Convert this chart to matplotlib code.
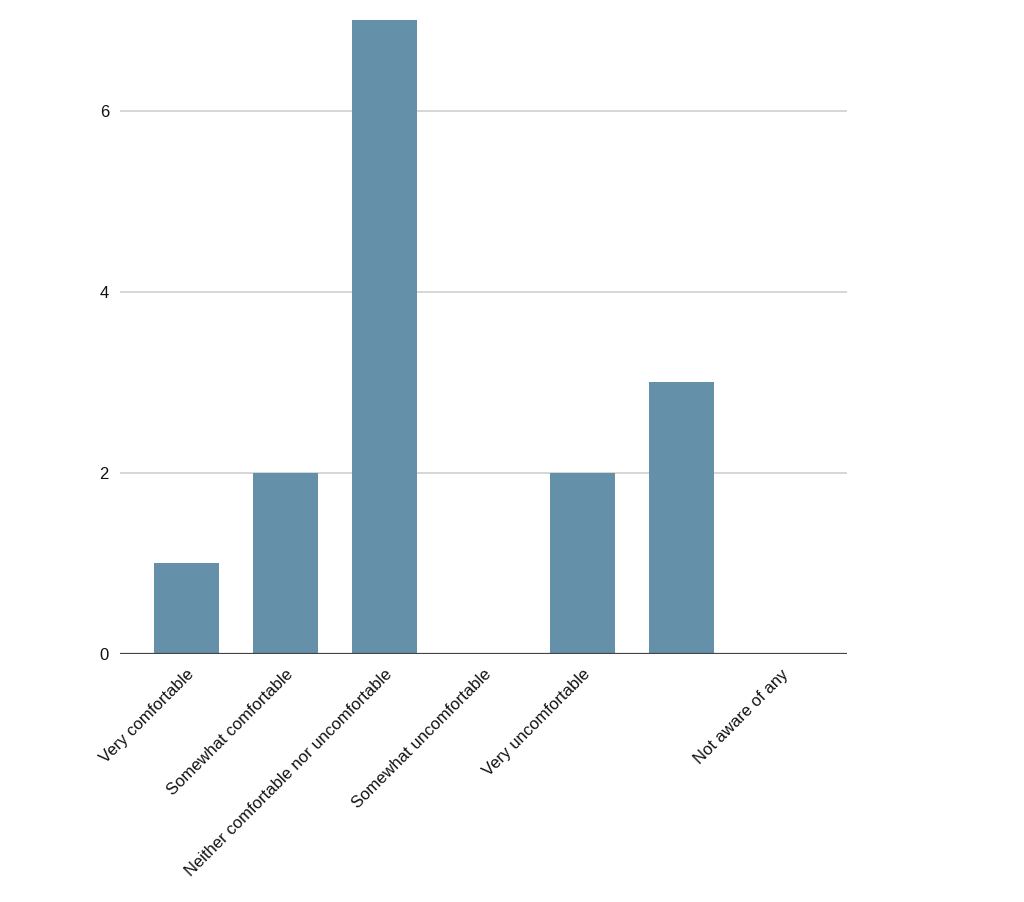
import matplotlib.pyplot as plt

plt.rcParams['font.family'] = ['Liberation Sans', 'DejaVu Sans']

categories = ['Very comfortable', 'Somewhat comfortable', 'Neither comfortable nor uncomfortable',
              'Somewhat uncomfortable', 'Very uncomfortable', '', 'Not aware of any']
counts = [1, 2, 7, 0, 2, 3, 0]
y_ticks = [0, 2, 4, 6]

fig = plt.figure(figsize=(10.24, 9.02), dpi=100)
ax = fig.add_axes([120 / 1024, 1 - 654 / 902, 727 / 1024, 634 / 902])

x = range(len(categories))
ax.bar(x, counts, width=0.65, color='#6590aa', zorder=2)

ax.set_ylim(0, 7)
ax.set_xlim(-0.67, len(categories) - 0.33)
ax.set_yticks(y_ticks)
ax.set_yticklabels([str(t) for t in y_ticks], fontsize=12, color='#111111')
ax.yaxis.grid(True, color='#d0d0d0', linewidth=1.2, zorder=0)
ax.axhline(0, color='#444444', linewidth=1.6, zorder=3)

ax.set_xticks(list(x))
ax.set_xticklabels(categories, rotation=45, ha='right', va='top', rotation_mode='anchor',
                   fontsize=12, color='#111111')
ax.tick_params(axis='both', length=0)
ax.tick_params(axis='x', pad=9)
ax.tick_params(axis='y', pad=8)

for side in ['top', 'right', 'left', 'bottom']:
    ax.spines[side].set_visible(False)

plt.savefig('out.png', dpi=100)
plt.close()
